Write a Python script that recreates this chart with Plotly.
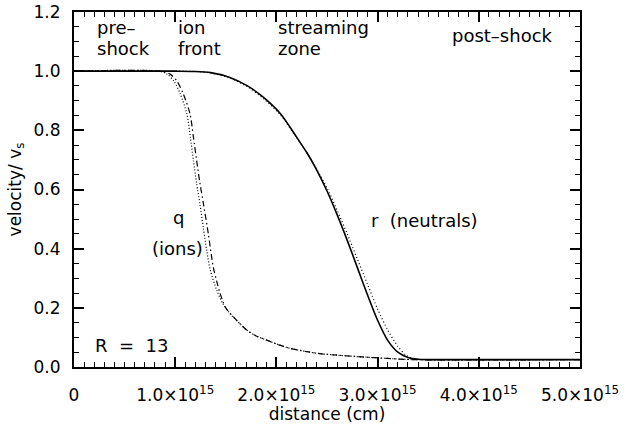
import numpy as np
import plotly.graph_objects as go

# distances in units of 1e15 cm, velocities in units of v_s
x_r_solid = [0, 1.0, 1.2, 1.35, 1.54, 1.71, 1.87, 2.04, 2.2, 2.3, 2.4, 2.5, 2.6, 2.7,
             2.8, 2.9, 3.0, 3.1, 3.2, 3.3, 3.4, 3.5, 5.0]
v_r_solid = [1.0, 1.0, 0.999, 0.995, 0.979, 0.951, 0.912, 0.856, 0.777, 0.725, 0.665,
             0.595, 0.515, 0.428, 0.336, 0.244, 0.158, 0.09, 0.05, 0.032, 0.026, 0.025, 0.025]

x_r_dot = [0, 1.0, 1.2, 1.35, 1.54, 1.71, 1.87, 2.04, 2.2, 2.3, 2.4, 2.5, 2.6, 2.7,
           2.8, 2.9, 3.0, 3.1, 3.2, 3.28, 3.35, 3.45, 5.0]
v_r_dot = [1.0, 1.0, 0.999, 0.994, 0.977, 0.948, 0.908, 0.852, 0.775, 0.725, 0.668,
           0.605, 0.53, 0.45, 0.365, 0.28, 0.196, 0.125, 0.07, 0.04, 0.028, 0.025, 0.025]

x_q_dash = [0, 0.85, 0.95, 1.02, 1.08, 1.146, 1.18, 1.212, 1.245, 1.28, 1.327, 1.376,
            1.41, 1.443, 1.5, 1.574, 1.65, 1.706, 1.8, 1.904, 2.0, 2.134, 2.3, 2.43,
            2.6, 2.85, 3.1, 3.34, 5.0]
v_q_dash = [1.0, 1.0, 0.99, 0.965, 0.923, 0.856, 0.777, 0.698, 0.62, 0.55, 0.451, 0.338,
            0.29, 0.249, 0.2, 0.17, 0.143, 0.125, 0.105, 0.091, 0.078, 0.063, 0.052,
            0.045, 0.04, 0.034, 0.029, 0.025, 0.025]

x_q_dot = [0, 0.84, 0.92, 0.99, 1.05, 1.115, 1.15, 1.18, 1.212, 1.245, 1.278, 1.311,
           1.345, 1.41, 1.47, 1.54, 1.65, 1.706, 1.8, 1.904, 2.0, 2.134, 2.3, 2.43,
           2.6, 2.85, 3.1, 3.34, 5.0]
v_q_dot = [1.0, 1.0, 0.99, 0.965, 0.923, 0.856, 0.777, 0.698, 0.62, 0.55, 0.47, 0.395,
           0.33, 0.26, 0.215, 0.181, 0.143, 0.125, 0.105, 0.091, 0.078, 0.063, 0.052,
           0.045, 0.04, 0.034, 0.029, 0.025, 0.025]

x_tick_vals = [0, 1, 2, 3, 4, 5]
x_tick_text = ["0", "1.0×10<sup>15</sup>", "2.0×10<sup>15</sup>", "3.0×10<sup>15</sup>",
               "4.0×10<sup>15</sup>", "5.0×10<sup>15</sup>"]
y_tick_vals = [0.0, 0.2, 0.4, 0.6, 0.8, 1.0, 1.2]

SCALE = 1e15
FONT = "DejaVu Sans"
X_RANGE = [0, 5 * SCALE]
Y_RANGE = [0, 1.2]

fig = go.Figure()

def add_curve(xs, ys, dash, width):
    fig.add_trace(go.Scatter(
        x=np.array(xs) * SCALE, y=ys, mode="lines",
        line=dict(color="black", width=width, dash=dash, shape="spline", smoothing=0.8),
        showlegend=False, hoverinfo="skip"))

add_curve(x_q_dot, v_q_dot, "1px,2px", 1.2)
add_curve(x_q_dash, v_q_dash, "6px,3px,1.5px,3px", 1.2)
add_curve(x_r_dot, v_r_dot, "1px,2.5px", 1.2)
add_curve(x_r_solid, v_r_solid, "solid", 1.6)

labels = [
    ("pre–", 0.21, 1.148), ("shock", 0.21, 1.077),
    ("ion", 1.005, 1.148), ("front", 1.005, 1.077),
    ("streaming", 2.0, 1.148), ("zone", 2.0, 1.077),
    ("post–shock", 3.715, 1.12),
    ("r  (neutrals)", 2.912, 0.495),
    ("R  =  13", 0.19, 0.074),
]
for text, xv, yv in labels:
    fig.add_annotation(x=xv * SCALE, y=yv, text=text, showarrow=False,
                       xanchor="left", yanchor="middle",
                       font=dict(family=FONT, size=18, color="black"))
for text, xv, yv in [("q", 1.03, 0.506), ("(ions)", 1.023, 0.399)]:
    fig.add_annotation(x=xv * SCALE, y=yv, text=text, showarrow=False,
                       xanchor="center", yanchor="middle",
                       font=dict(family=FONT, size=18, color="black"))

# boxed axes with inward major and minor ticks on all four sides
axis_common = dict(
    showline=True, linewidth=2, linecolor="black", mirror="allticks",
    ticks="inside", ticklen=10, tickwidth=1.5, tickcolor="black",
    showgrid=False, zeroline=False, automargin=False,
    tickfont=dict(family=FONT, size=17, color="black"),
)
minor_common = dict(ticks="inside", ticklen=5, tickwidth=1.2, tickcolor="black",
                    showgrid=False)

fig.update_layout(
    width=632, height=424,
    margin=dict(l=74, r=52, t=12, b=57),
    paper_bgcolor="white", plot_bgcolor="white",
    font=dict(family=FONT, color="black"),
    xaxis=dict(
        range=X_RANGE, tickmode="array",
        tickvals=[v * SCALE for v in x_tick_vals], ticktext=x_tick_text,
        minor=dict(dtick=0.1 * SCALE, tick0=0, **minor_common),
        ticklabelstandoff=12,
        title=dict(text="distance (cm)", font=dict(family=FONT, size=17, color="black"),
                   standoff=2),
        **axis_common),
    yaxis=dict(
        range=Y_RANGE, tickmode="array", tickvals=y_tick_vals,
        ticktext=[f"{v:.1f}" for v in y_tick_vals],
        minor=dict(dtick=0.05, tick0=0, **minor_common),
        ticklabelstandoff=8,
        title=dict(text="velocity/ v<sub>s</sub>",
                   font=dict(family=FONT, size=17, color="black"), standoff=8),
        **axis_common),
)

fig.write_html("out.html")
